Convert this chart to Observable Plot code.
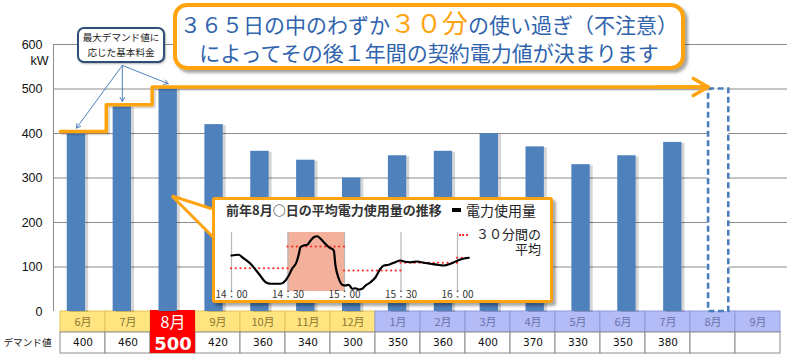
<!DOCTYPE html>
<html><head><meta charset="utf-8">
<script src="https://cdn.jsdelivr.net/npm/d3@7"></script>
<script src="https://cdn.jsdelivr.net/npm/@observablehq/plot@0.6"></script>
<style>
body{margin:0;background:#fff;}
#wrap{position:relative;width:800px;height:360px;overflow:hidden;font-family:"Noto Sans CJK JP",sans-serif;}
#wrap > *{position:absolute;}
#title{left:173px;top:3px;width:512px;height:67px;box-sizing:border-box;border:4px solid #ffa40f;border-radius:14px;background:#fff;
  box-shadow:3px 3px 3px rgba(0,0,0,.35);text-align:center;color:#2f63ad;font-size:21px;line-height:28px;padding-top:1px;white-space:nowrap;}
#title .hl{color:#ffa40f;font-size:26px;}
#callout{left:77px;top:27px;width:88px;height:36px;box-sizing:border-box;border:2px solid #2d4f79;border-radius:7px;background:#fff;
  font-size:9.6px;line-height:15px;text-align:center;color:#222;padding-top:1px;box-shadow:1px 1px 2px rgba(0,0,0,.3);white-space:nowrap;}
#insetbox{left:212px;top:197px;width:341px;height:106px;box-sizing:border-box;border:3px solid #ffa40f;border-radius:3px;background:#fff;
  box-shadow:3px 3px 3px rgba(0,0,0,.35);}
.lg{white-space:nowrap;color:#222;}
</style></head><body><div id="wrap"></div>
<script>
// ---- main chart data ----
const months = ["6月","7月","8月","9月","10月","11月","12月","1月","2月","3月","4月","5月","6月","7月","8月","9月"];
const demand = [400,460,500,420,360,340,300,350,360,400,370,330,350,380,null,null];
const yTicks = [0,100,200,300,400,500,600];
const rowLabel = "デマンド値";
const calloutLines = ["最大デマンド値に","応じた基本料金"];
const titleLine1 = ["３６５日の中のわずか","３０分","の使い過ぎ（不注意）"];
const titleLine2 = "によってその後１年間の契約電力値が決まります";

// ---- inset data (前年8月○日) ----
const usageMin = [0,3.9,5.7,10.1,14.5,18.1,20.7,26,28.7,30.4,32.2,34.5,35.8,36.6,38.4,40.2,42,43.7,45.5,47.3,49,51.7,54.3,55.2,57,58.8,60.5,62.3,64.1,65.8,67.6,69.4,71.2,73.8,76.5,79.1,80.9,83.5,86.2,89.7,91.5,95.1,98.6,102.1,105.7,109.2,112.7,116.3,119,121.6,126];
const usageKW  = [464,467,457,431,391,357,351,351,364,384,411,437,471,497,504,507,524,537,541,531,517,497,484,424,371,347,344,347,331,333,328,331,344,357,377,411,424,427,435,444,440,437,440,435,431,427,424,431,440,448,455];
const avgStart = [0,30,60,90,120];
const avgKW    = [413,500,404,435,455];
const timeTicks = [0,30,60,90,120];
const timeLabels = ["14：00","14：30","15：00","15：30","16：00"];
const insetTitle = "前年8月○日の平均電力使用量の推移";
const legendUsage = "電力使用量";
const legendAvg = ["３０分間の","平均"];

const ORANGE = "#ffa40f", BLUE = "#4f81bd";
const wrap = document.getElementById("wrap");
const idx = d3.range(months.length);
const runMax = demand.map((d, i) => d3.max(demand.slice(0, i + 1)));
const lastActual = d3.max(idx.filter(i => demand[i] != null));
const futureIdx = months.indexOf("8月", 3);
const peakIdx = d3.maxIndex(demand);
const newYearIdx = months.indexOf("1月");

// ---- table ----
const monthFill = i => i === peakIdx ? "#ff0000" : (i < newYearIdx ? "#ffe47f" : "#b4bcf8");
const monthStroke = i => i < newYearIdx ? "#e2c55a" : "#9098dc";
const monthText = i => i < newYearIdx ? "#8a7632" : "#6a72a8";
const table = Plot.plot({
  width: 800, height: 50, marginLeft: 53, marginRight: 13, marginTop: 0, marginBottom: 0,
  x: {type: "band", domain: idx, padding: 0, axis: null},
  y: {domain: [0, 2], range: [1, 43], axis: null},
  style: {background: "transparent", overflow: "visible", fontFamily: "Noto Sans CJK JP"},
  marks: [
    Plot.barY(idx.filter(i => i !== peakIdx), {x: d => d, y1: 0, y2: 1, fill: monthFill, stroke: monthStroke, strokeWidth: 1}),
    Plot.barY(idx, {x: d => d, y1: 1, y2: 2, fill: "#fff", stroke: "#8c8c8c", strokeWidth: 1}),
    Plot.barY([peakIdx], {x: d => d, y1: 0, y2: 2, fill: "#ff0000", insetTop: -1}),
    Plot.text(idx.filter(i => i !== peakIdx), {x: d => d, y: 0.5, text: i => months[i], fill: monthText, fontSize: 11}),
    Plot.text([peakIdx], {x: d => d, y: 0.52, text: i => months[i], fill: "#fff", fontSize: 16}),
    Plot.text(idx.filter(i => i !== peakIdx && demand[i] != null), {x: d => d, y: 1.5, text: i => String(demand[i]), fill: "#111", fontSize: 10.5, fontFamily: "DejaVu Sans"}),
    Plot.text([peakIdx], {x: d => d, y: 1.55, text: i => String(demand[i]), fill: "#fff", fontSize: 18, fontWeight: "bold", fontFamily: "DejaVu Sans"}),
    Plot.text([rowLabel], {y: () => 1.5, frameAnchor: "left", textAnchor: "end", dx: -2, fontSize: 9.6, fill: "#111"})
  ]
});
table.style.left = "0px"; table.style.top = "310px";
wrap.appendChild(table);

// ---- main chart ----
const stepPts = d3.range(lastActual + 1).map(i => ({x: i - 0.35, y: runMax[i]}));
stepPts.push({x: futureIdx - 0.23, y: runMax[lastActual]});
const arrowSeg = [{x1: stepPts[lastActual].x, x2: futureIdx - 0.23, y: runMax[lastActual]}];
const calloutTargets = [0, 1, 2].map(i => ({x1: 1, y1: 553, x2: i, y2: demand[i] + 12}));
const bars = idx.filter(i => demand[i] != null);

const chart = Plot.plot({
  width: 800, height: 312, marginLeft: 53, marginRight: 13, marginTop: 44, marginBottom: 1,
  x: {domain: [-0.5, 15.5], axis: null},
  y: {domain: [0, 600], ticks: 6, tickSize: 0, tickPadding: 11, label: null},
  style: {background: "transparent", overflow: "visible", fontFamily: "Liberation Sans", fontSize: "12.5px", color: "#111"},
  marks: [
    Plot.ruleY(yTicks.filter(t => t > 0), {stroke: "#8c8c8c"}),
    Plot.ruleX([-0.5], {y1: 0, y2: 600, stroke: "#8c8c8c"}),
    Plot.rectY([futureIdx], {x1: d => d - 0.22, x2: d => d + 0.22, y: () => runMax[lastActual], fill: "#fff", stroke: "#4a7ebb", strokeWidth: 2.6, strokeDasharray: "6,3.5"}),
    Plot.rectY(bars, {x1: i => i - 0.2, x2: i => i + 0.2, y: i => demand[i], fill: "#000", fillOpacity: 0.16, dx: 3, dy: 1}),
    Plot.rectY(bars, {x1: i => i - 0.2, x2: i => i + 0.2, y: i => demand[i], fill: BLUE}),
    Plot.line(stepPts, {x: "x", y: "y", curve: "step-after", stroke: "#000", strokeOpacity: 0.15, strokeWidth: 3.5, dx: 2, dy: 0}),
    Plot.line(stepPts, {x: "x", y: "y", curve: "step-after", stroke: ORANGE, strokeWidth: 3.5, dy: -2}),
    Plot.arrow(arrowSeg, {x1: "x1", x2: "x2", y1: "y", y2: "y", stroke: ORANGE, strokeWidth: 3.5, headLength: 11, dy: -2}),
    Plot.arrow(calloutTargets, {x1: "x1", y1: "y1", x2: "x2", y2: "y2", stroke: "#4f81bd", strokeWidth: 1, headLength: 7}),
    Plot.text(["kW"], {x: () => -0.5, y: () => 600, dx: -5, dy: 16, textAnchor: "end", fontSize: 12.5, fill: "#111"})
  ]
});
chart.style.left = "0px"; chart.style.top = "0px";
wrap.appendChild(chart);

// ---- title box ----
const title = document.createElement("div");
title.id = "title";
title.innerHTML = `${titleLine1[0]}<span class="hl">${titleLine1[1]}</span>${titleLine1[2]}<br>${titleLine2}`;
wrap.appendChild(title);

// ---- callout ----
const callout = document.createElement("div");
callout.id = "callout";
callout.innerHTML = calloutLines.join("<br>");
wrap.appendChild(callout);

// ---- inset pointer ----
const ptr = d3.create("svg").attr("width", 800).attr("height", 360).style("left", "0px").style("top", "0px");
ptr.append("polygon").attr("points", "172,196 216,210 216,240").attr("fill", "#fff").attr("stroke", ORANGE).attr("stroke-width", 3).attr("stroke-linejoin", "miter");
wrap.appendChild(ptr.node());

const box = document.createElement("div");
box.id = "insetbox";
wrap.appendChild(box);

// ---- inset chart ----
const usage = usageMin.map((m, i) => ({m, v: usageKW[i]}));
const avgs = avgStart.map((s, i) => ({s, e: Math.min(s + 30, d3.max(usageMin)), v: avgKW[i]}));
const hi = avgs[d3.maxIndex(avgs, d => d.v)];
const yLo = 320, yHi = 556;
const inset = Plot.plot({
  width: 339, height: 105, marginLeft: 18, marginRight: 95, marginTop: 35, marginBottom: 11,
  x: {domain: [0, 120], axis: null},
  y: {domain: [yLo, yHi], axis: null},
  style: {background: "transparent", overflow: "visible", fontFamily: "Noto Sans CJK JP"},
  marks: [
    Plot.rect([hi], {x1: "s", x2: "e", y1: yLo, y2: yHi, fill: "#f3b09a"}),
    Plot.ruleX(timeTicks, {y1: yLo, y2: yHi, stroke: "#b8b8b8", strokeWidth: 1.2}),
    Plot.ruleY(avgs, {x1: "s", x2: "e", y: "v", stroke: "#ff2a2a", strokeWidth: 2.2, strokeDasharray: "0.1,4.6", strokeLinecap: "round"}),
    Plot.line(usage, {x: "m", y: "v", stroke: "#000", strokeWidth: 2.2, curve: "monotone-x"}),
    Plot.text(timeTicks, {x: d => d, y: yLo, dy: 3, text: (d, i) => timeLabels[i], fontSize: 10, fill: "#333"})
  ]
});
inset.style.left = "213px"; inset.style.top = "197px";
wrap.appendChild(inset);

// ---- inset legend / title ----
function addDiv(html, css) {
  const d = document.createElement("div");
  d.className = "lg";
  d.innerHTML = html;
  d.style.cssText += css;
  wrap.appendChild(d);
  return d;
}
addDiv(insetTitle, "left:226px;top:201px;font-size:13px;line-height:18px;font-weight:bold;color:#333;");
addDiv("", "left:452px;top:208px;width:9px;height:4px;background:#000;");
addDiv(legendUsage, "left:466px;top:200px;font-size:14px;line-height:20px;");
addDiv("", "left:459px;top:234px;width:9px;height:0;border-top:2.2px dotted #ff2a2a;");
addDiv(legendAvg.join("<br>"), "right:259px;top:227px;font-size:13px;line-height:15px;text-align:right;font-family:'Liberation Sans','Noto Sans CJK JP',sans-serif;");
</script></body></html>
